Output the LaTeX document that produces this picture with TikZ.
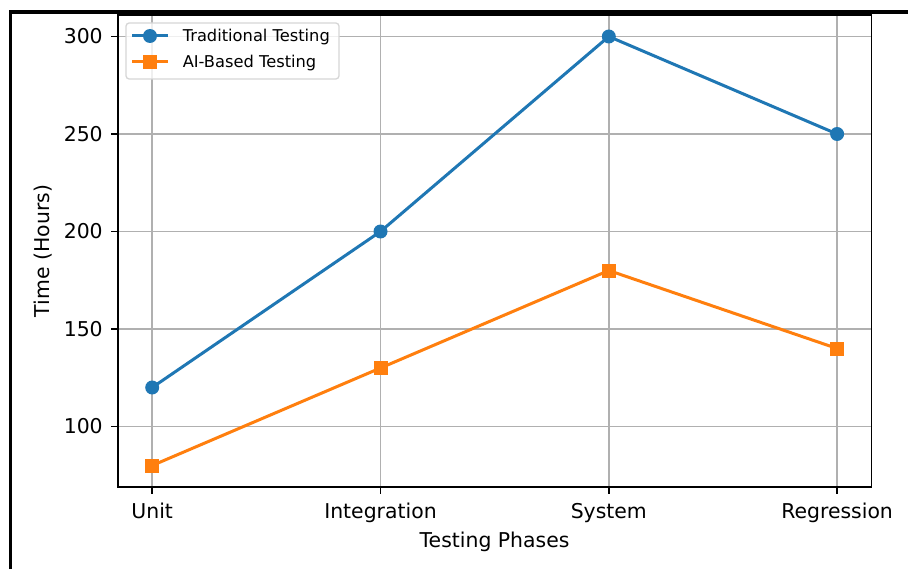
\documentclass[tikz,border=0pt]{standalone}
\usepackage{fontspec}
\setmainfont{DejaVu Sans}
\usepackage{tikz}
\usetikzlibrary{calc}
\definecolor{tradblue}{HTML}{1F77B4}
\definecolor{aiorange}{HTML}{FF7F0E}
\definecolor{gridgray}{HTML}{B0B0B0}
\definecolor{legendgray}{HTML}{D6D6D6}

\begin{document}
\begin{tikzpicture}[x=0.75pt, y=0.75pt,
  gridline/.style={draw=gridgray, line width=1.2pt},
  axisline/.style={draw=black, line width=1.2pt},
  tradline/.style={draw=tradblue, line width=2.25pt, line join=round},
  ailine/.style={draw=aiorange, line width=2.25pt, line join=round},
  tradmark/.style={circle, fill=tradblue, inner sep=0pt, minimum size=10.5pt},
  aimark/.style={rectangle, fill=aiorange, inner sep=0pt, minimum size=10.5pt},
  ticklabel/.style={inner sep=0pt, font=\fontsize{15.3}{18}\selectfont},
  legendlabel/.style={inner sep=0pt, font=\fontsize{12.2}{14}\selectfont},
  legendframe/.style={draw=legendgray, fill=white, fill opacity=0.8, line width=1pt, rounded corners=2.4pt}
]
\useasboundingbox (0,0) rectangle (908,569);
\pgfmathsetmacro{\xO}{152.2}
\pgfmathsetmacro{\xD}{228.3}
\pgfmathsetmacro{\yO}{142.5}
\pgfmathsetmacro{\yD}{1.95}
\pgfmathsetmacro{\xL}{118}
\pgfmathsetmacro{\xR}{871.3}
\pgfmathsetmacro{\yB}{82}
\pgfmathsetmacro{\yT}{554}

% outer frame
\draw[line width=2.6pt] (10.5,0) -- (10.5,557) -- (912,557);

% grid
\foreach \i in {0,...,3}
  \draw[gridline] ({\xO+\i*\xD},\yB) -- ({\xO+\i*\xD},\yT);
\foreach \v in {100,150,...,300}
  \draw[gridline] (\xL,{\yO+(\v-100)*\yD}) -- (\xR,{\yO+(\v-100)*\yD});

% data
\foreach \v [count=\i from 0] in {120,200,300,250}
  \coordinate (trad\i) at ({\xO+\i*\xD},{\yO+(\v-100)*\yD});
\foreach \v [count=\i from 0] in {80,130,180,140}
  \coordinate (ai\i) at ({\xO+\i*\xD},{\yO+(\v-100)*\yD});

\draw[tradline] (trad0) -- (trad1) -- (trad2) -- (trad3);
\draw[ailine] (ai0) -- (ai1) -- (ai2) -- (ai3);
\foreach \i in {0,...,3}{
  \node[tradmark] (tm\i) at (trad\i) {};
  \node[aimark] (am\i) at (ai\i) {};
}

% axes
\draw[axisline] (\xL,\yB) rectangle (\xR,\yT);
\foreach \lab [count=\i from 0] in {Unit,Integration,System,Regression}{
  \draw[axisline] ({\xO+\i*\xD},\yB) -- ++(0,-7);
  \node[ticklabel, anchor=base] (xt\i) at ({\xO+\i*\xD},50.7) {\lab};
}
\foreach \v in {100,150,...,300}{
  \draw[axisline] (\xL,{\yO+(\v-100)*\yD}) -- ++(-7,0);
  \node[ticklabel, anchor=east] (yt\v) at (103,{\yO+(\v-100)*\yD}) {\v};
}
\node[ticklabel, anchor=base] (xlab) at (494.6,22) {Testing Phases};
\node[ticklabel, rotate=90, anchor=base] (ylab) at (49.5,318) {Time (Hours)};

% legend
\draw[legendframe] (126,490) rectangle (339,546);
\coordinate (lgT0) at (132,533);
\coordinate (lgT1) at (168,533);
\coordinate (lgA0) at (132,507.3);
\coordinate (lgA1) at (168,507.3);
\draw[tradline] (lgT0) -- (lgT1);
\node[tradmark] (lgTm) at ($(lgT0)!0.5!(lgT1)$) {};
\draw[ailine] (lgA0) -- (lgA1);
\node[aimark] (lgAm) at ($(lgA0)!0.5!(lgA1)$) {};
\node[legendlabel, anchor=base west] (lgTt) at (182.5,527.2) {Traditional Testing};
\node[legendlabel, anchor=base west] (lgAt) at (182.5,501.5) {AI-Based Testing};
\end{tikzpicture}
\end{document}
